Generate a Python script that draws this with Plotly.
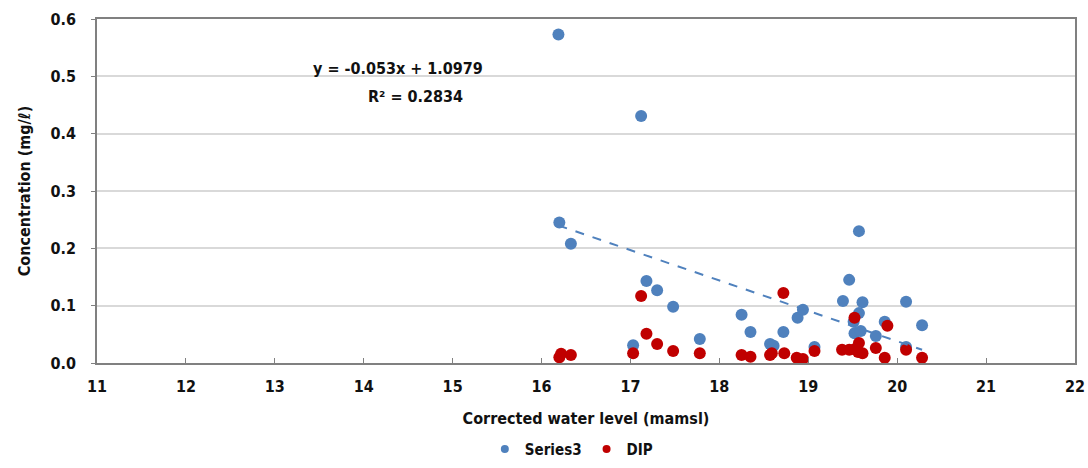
import plotly.graph_objects as go

# Series3 (blue)
s3_x = [16.19, 17.12, 16.20, 16.33, 17.18, 17.30, 17.48, 17.03, 17.78, 18.25,
        18.35, 18.57, 18.61, 18.72, 18.88, 18.94, 19.07, 19.39, 19.46, 19.57,
        19.61, 19.57, 19.51, 19.52, 19.59, 19.76, 19.86, 20.10, 20.28, 20.10]
s3_y = [0.573, 0.431, 0.245, 0.208, 0.143, 0.127, 0.098, 0.031, 0.042, 0.084,
        0.054, 0.033, 0.030, 0.054, 0.079, 0.093, 0.028, 0.108, 0.145, 0.230,
        0.106, 0.087, 0.072, 0.052, 0.056, 0.047, 0.072, 0.107, 0.066, 0.028]

# DIP (red)
dip_x = [16.20, 16.22, 16.33, 17.03, 17.12, 17.18, 17.30, 17.48, 17.78, 18.25,
         18.35, 18.57, 18.59, 18.72, 18.73, 18.87, 18.94, 19.07, 19.38, 19.46,
         19.52, 19.52, 19.56, 19.57, 19.61, 19.76, 19.89, 19.86, 20.10, 20.28]
dip_y = [0.010, 0.016, 0.014, 0.017, 0.117, 0.051, 0.033, 0.021, 0.017, 0.014,
         0.011, 0.014, 0.017, 0.122, 0.017, 0.009, 0.007, 0.021, 0.023, 0.023,
         0.079, 0.024, 0.019, 0.035, 0.017, 0.026, 0.065, 0.009, 0.023, 0.009]

# Trendline (from the chart's equation)
slope = -0.053
intercept = 1.0979
r2 = 0.2834

x_ticks = list(range(11, 23))
y_ticks = [0.0, 0.1, 0.2, 0.3, 0.4, 0.5, 0.6]

BLUE = "#4F81BD"
RED = "#C00000"
FONT = "DejaVu Sans Condensed, Liberation Sans, sans-serif"

fig = go.Figure()

tx = [min(s3_x), max(s3_x)]
ty = [slope * v + intercept for v in tx]

fig.add_trace(go.Scatter(
    x=s3_x, y=s3_y, mode="markers", name="Series3", showlegend=False,
    marker=dict(color=BLUE, size=12, line=dict(width=0))))
fig.add_trace(go.Scatter(
    x=dip_x, y=dip_y, mode="markers", name="DIP", showlegend=False,
    marker=dict(color=RED, size=12, line=dict(width=0))))
fig.add_trace(go.Scatter(
    x=tx, y=ty, mode="lines", showlegend=False, hoverinfo="skip",
    line=dict(color=BLUE, width=2, dash="dash")))
# legend entries with smaller symbols
fig.add_trace(go.Scatter(
    x=[None], y=[None], mode="markers", name="<b>Series3</b>",
    marker=dict(color=BLUE, size=8)))
fig.add_trace(go.Scatter(
    x=[None], y=[None], mode="markers", name="<b>DIP</b>",
    marker=dict(color=RED, size=8)))

fig.add_annotation(
    x=14.38, y=0.513, xref="x", yref="y", showarrow=False,
    text=f"<b>y = {slope}x + {intercept}</b>",
    font=dict(family=FONT, size=16, color="#111"))
fig.add_annotation(
    x=14.58, y=0.465, xref="x", yref="y", showarrow=False,
    text=f"<b>R² = {r2}</b>",
    font=dict(family=FONT, size=16, color="#111"))

fig.update_layout(
    width=1088, height=468,
    margin=dict(l=97, r=13, t=19, b=105, autoexpand=False),
    paper_bgcolor="white", plot_bgcolor="white",
    font=dict(family=FONT, size=15, color="#111"),
    showlegend=True,
    legend=dict(orientation="h", x=0.485, xanchor="center",
                yref="container", y=0.005, yanchor="bottom",
                font=dict(family=FONT, size=15), itemsizing="trace",
                itemwidth=30, tracegroupgap=0),
    xaxis=dict(range=[11, 22], tickvals=x_ticks,
               ticktext=[f"<b>{v}</b>" for v in x_ticks],
               showgrid=False, zeroline=False,
               showline=True, linecolor="#808080", linewidth=1.5, mirror=True,
               ticks="inside", ticklen=5, tickcolor="#808080",
               ticklabelstandoff=8,
               tickfont=dict(family=FONT, size=16),
               title=dict(text="<b>Corrected water level (mamsl)</b>",
                          font=dict(family=FONT, size=16), standoff=18)),
    yaxis=dict(range=[0, 0.6], tickvals=y_ticks,
               ticktext=[f"<b>{v:.1f}</b>" for v in y_ticks],
               showgrid=True, gridcolor="#D9D9D9", gridwidth=1.5, zeroline=False,
               showline=True, linecolor="#808080", linewidth=1.5, mirror=True,
               ticks="outside", ticklen=4, tickcolor="#808080",
               ticklabelstandoff=12,
               tickfont=dict(family=FONT, size=16),
               title=dict(text="<b>Concentration (mg/ℓ)</b>",
                          font=dict(family=FONT, size=16), standoff=16)),
)

fig.write_html("out.html")
